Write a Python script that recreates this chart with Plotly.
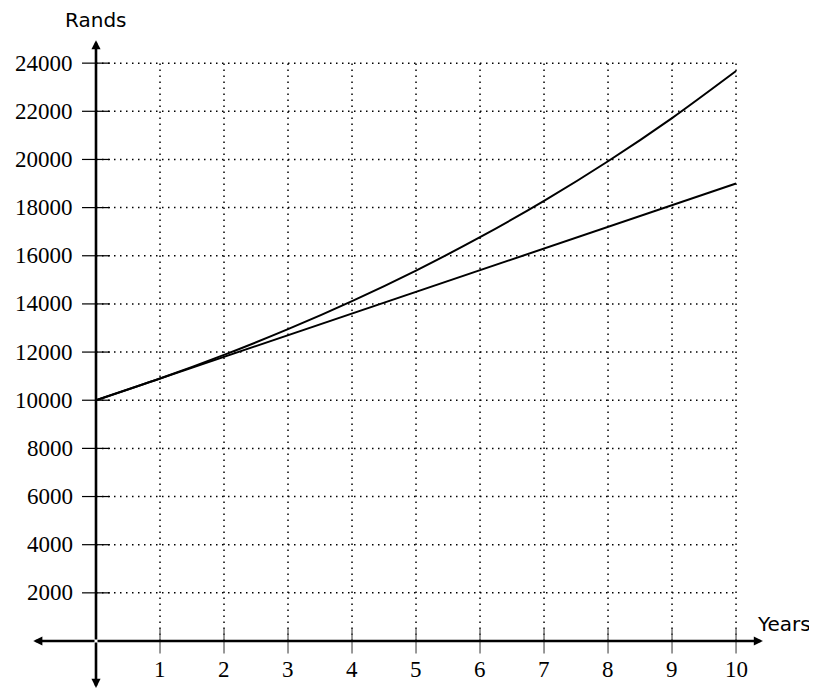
import plotly.graph_objects as go

# ---- data ----
years = [0, 1, 2, 3, 4, 5, 6, 7, 8, 9, 10]
simple = [10000, 10900, 11800, 12700, 13600, 14500, 15400, 16300, 17200, 18100, 19000]
compound = [10000, 10900, 11881, 12950, 14116, 15386, 16771, 18280, 19926, 21719, 23674]

x_ticks = [1, 2, 3, 4, 5, 6, 7, 8, 9, 10]
y_ticks = [2000, 4000, 6000, 8000, 10000, 12000, 14000, 16000, 18000, 20000, 22000, 24000]

X_MAX = 10
Y_MAX = 24000

fig = go.Figure()

# ---- dotted grid ----
gx, gy = [], []
for t in x_ticks:
    gx += [t, t, None]
    gy += [0, Y_MAX, None]
for t in y_ticks:
    gx += [0, X_MAX, None]
    gy += [t, t, None]
fig.add_trace(go.Scatter(
    x=gx, y=gy, mode="lines",
    line=dict(color="black", width=1.5, dash="1.5px,4.5px"),
    hoverinfo="skip", showlegend=False,
))

# ---- tick marks ----
fig.add_trace(go.Scatter(
    x=x_ticks, y=[0] * len(x_ticks), mode="markers",
    marker=dict(symbol="line-ns-open", size=18, color="#555",
                line=dict(color="#555", width=1.2)),
    hoverinfo="skip", showlegend=False,
))
fig.add_trace(go.Scatter(
    x=[0] * len(y_ticks), y=y_ticks, mode="markers",
    marker=dict(symbol="line-ew-open", size=20, color="black",
                line=dict(color="black", width=1.2)),
    hoverinfo="skip", showlegend=False,
))

# ---- curves ----
fig.add_trace(go.Scatter(
    x=years, y=simple, mode="lines",
    line=dict(color="black", width=2),
    showlegend=False,
))
fig.add_trace(go.Scatter(
    x=years, y=compound, mode="lines",
    line=dict(color="black", width=2, shape="spline", smoothing=0.8),
    showlegend=False,
))

# ---- axes with arrows ----
def arrow(x0, y0, x1, y1):
    fig.add_annotation(
        x=x1, y=y1, ax=x0, ay=y0, xref="x", yref="y", axref="x", ayref="y",
        showarrow=True, arrowhead=2, arrowsize=0.7, arrowwidth=2.6,
        arrowcolor="black", text="",
    )

arrow(0, 0, -0.98, 0)
arrow(0, 0, 10.42, 0)
arrow(0, 0, 0, 24950)
arrow(0, 0, 0, -1950)

# ---- tick labels ----
for t in x_ticks:
    fig.add_annotation(
        x=t, y=0, text=str(t), showarrow=False, yanchor="top", yshift=-14,
        font=dict(family="Liberation Serif", size=23, color="black"),
    )
for t in y_ticks:
    fig.add_annotation(
        x=0, y=t, text=str(t), showarrow=False, xanchor="right", xshift=-21,
        font=dict(family="Liberation Serif", size=23, color="black"),
    )

# axis titles
fig.add_annotation(
    x=0, y=Y_MAX, text="Rands", showarrow=False, yanchor="bottom", yshift=29,
    font=dict(family="DejaVu Sans", size=20, color="black"),
)
fig.add_annotation(
    x=10.3, y=0, text="Years", showarrow=False, xanchor="left", yanchor="bottom",
    xshift=0, yshift=3,
    font=dict(family="DejaVu Sans", size=20, color="black"),
)

fig.update_layout(
    width=817, height=688,
    margin=dict(l=0, r=0, t=0, b=0),
    plot_bgcolor="white", paper_bgcolor="white",
    xaxis=dict(range=[-1.375, 11.39], visible=False, fixedrange=True),
    yaxis=dict(range=[-2284, 26290], visible=False, fixedrange=True),
)

fig.write_html("out.html")
